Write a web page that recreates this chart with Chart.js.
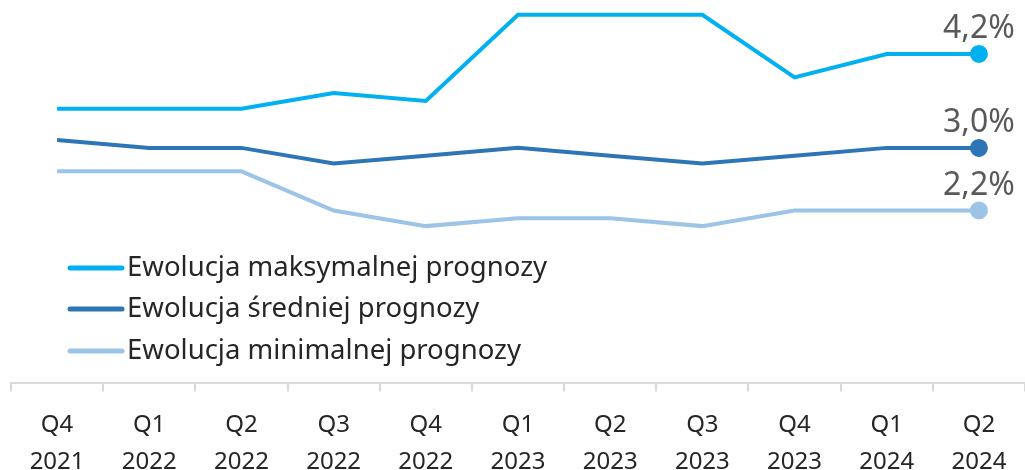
<!DOCTYPE html>
<html>
<head>
<meta charset="utf-8">
<script src="https://cdn.jsdelivr.net/npm/chart.js@4"></script>
<style>
  html, body { margin: 0; padding: 0; background: #fff; overflow: hidden; }
  #wrap { width: 1025px; height: 470px; }
</style>
</head>
<body>
<div id="wrap"><canvas id="forecastChart"></canvas></div>
<script>
// quarters on the x axis (two-line labels)
const quarters = [
  ["Q4", "2021"], ["Q1", "2022"], ["Q2", "2022"], ["Q3", "2022"],
  ["Q4", "2022"], ["Q1", "2023"], ["Q2", "2023"], ["Q3", "2023"],
  ["Q4", "2023"], ["Q1", "2024"], ["Q2", "2024"]
];

const seriesNames = [
  "Ewolucja maksymalnej prognozy",
  "Ewolucja średniej prognozy",
  "Ewolucja minimalnej prognozy"
];

// values (%)
const maxForecast = [3.5, 3.5, 3.5, 3.7, 3.6, 4.7, 4.7, 4.7, 3.9, 4.2, 4.2];
const avgForecast = [3.1, 3.0, 3.0, 2.8, 2.9, 3.0, 2.9, 2.8, 2.9, 3.0, 3.0];
const minForecast = [2.7, 2.7, 2.7, 2.2, 2.0, 2.1, 2.1, 2.0, 2.2, 2.2, 2.2];

const colors = ["#00B0F0", "#2E75B6", "#9DC3E6"];
const FONT = "'Noto Sans', 'Open Sans', sans-serif";

function makeSet(i, values) {
  const last = values.length - 1;
  return {
    label: seriesNames[i],
    data: values,
    borderColor: colors[i],
    backgroundColor: colors[i],
    borderWidth: 4,
    tension: 0,
    clip: false,
    // only the last point is marked
    pointRadius: values.map((v, k) => k === last ? 7 : 0),
    pointHoverRadius: 0
  };
}

// legend drawn inside the plot, bottom-left
const insideLegend = {
  id: "insideLegend",
  afterDatasetsDraw(chart) {
    const ctx = chart.ctx;
    const rows = [268, 309, 351];
    ctx.save();
    ctx.font = "27.5px " + FONT;
    ctx.textBaseline = "middle";
    chart.data.datasets.forEach((ds, i) => {
      ctx.strokeStyle = ds.borderColor;
      ctx.lineWidth = 5;
      ctx.lineCap = "round";
      ctx.beginPath();
      ctx.moveTo(70, rows[i]);
      ctx.lineTo(122, rows[i]);
      ctx.stroke();
      ctx.fillStyle = "#262626";
      ctx.fillText(ds.label, 127, rows[i]);
    });
    ctx.restore();
  }
};

// value label above the last point of each line
const endLabels = {
  id: "endLabels",
  afterDatasetsDraw(chart) {
    const ctx = chart.ctx;
    ctx.save();
    ctx.font = "32px " + FONT;
    ctx.fillStyle = "#595959";
    ctx.textAlign = "center";
    ctx.textBaseline = "bottom";
    chart.data.datasets.forEach((ds, i) => {
      const meta = chart.getDatasetMeta(i);
      const pt = meta.data[meta.data.length - 1];
      const v = ds.data[ds.data.length - 1];
      ctx.fillText(v.toFixed(1).replace(".", ",") + "%", pt.x, pt.y - 9);
    });
    ctx.restore();
  }
};

new Chart(document.getElementById("forecastChart"), {
  type: "line",
  data: {
    labels: quarters,
    datasets: [
      makeSet(0, maxForecast),
      makeSet(1, avgForecast),
      makeSet(2, minForecast)
    ]
  },
  options: {
    responsive: true,
    maintainAspectRatio: false,
    animation: false,
    layout: { autoPadding: false, padding: { left: 11, right: -2, top: 0, bottom: -26 } },
    scales: {
      x: {
        offset: true,
        grid: {
          offset: true,
          drawOnChartArea: false,
          color: "#D9D9D9",
          tickLength: 9,
          lineWidth: 2
        },
        border: { color: "#D9D9D9", width: 2 },
        ticks: {
          color: "#262626",
          font: { family: FONT, size: 24, lineHeight: 1.55 },
          padding: 15,
          maxRotation: 0,
          autoSkip: false
        }
      },
      y: {
        display: false,
        min: 0,
        max: 4.89
      }
    },
    plugins: {
      legend: { display: false },
      tooltip: { enabled: false }
    }
  },
  plugins: [insideLegend, endLabels]
});
</script>
</body>
</html>
